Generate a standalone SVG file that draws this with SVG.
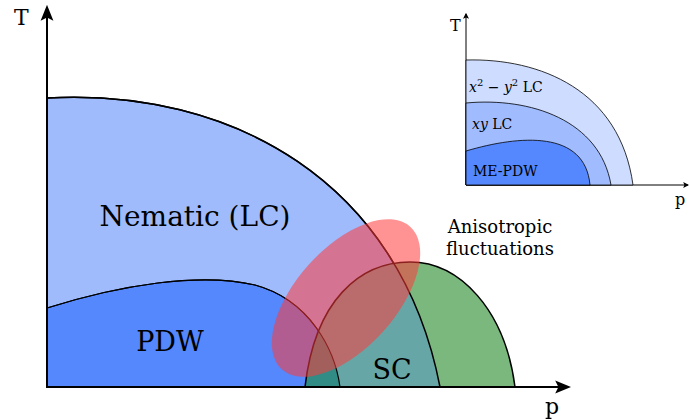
<svg xmlns="http://www.w3.org/2000/svg" width="689" height="420" viewBox="0 0 689 420">
<style>
text{font-family:"DejaVu Serif","Liberation Serif",serif;fill:#000}
.reg{stroke:#000;stroke-width:1.5}
.ax{stroke:#000;stroke-width:2;fill:none}
.iax{stroke:#000;stroke-width:1;fill:none}
</style>
<defs>
<marker id="ah" viewBox="0 0 10 10" refX="8" refY="5" markerWidth="6" markerHeight="6" orient="auto"><path d="M0,0 L10,5 L0,10 L2,5 Z" fill="#000"/></marker>
<marker id="ahs" viewBox="0 0 10 10" refX="8" refY="5" markerWidth="8" markerHeight="8" orient="auto"><path d="M0,1 L10,5 L0,9 L2,5 Z" fill="#000"/></marker>
<path id="nem" d="M47,387 L47,98 C230,88 400,180 440,387 Z"/>
<path id="pdw" d="M47,387 L47,308 C120,285 200,272 255,285 C310,300 335,350 340,387 Z"/>
<path id="sc" d="M305,387 C315,300 360,262 410,262 C460,262 505,310 515,387 Z"/>
<clipPath id="cn"><use href="#nem"/></clipPath>
<clipPath id="cp"><use href="#pdw"/></clipPath>
</defs>
<g id="nematic"><use href="#nem" fill="#9fbbfc" class="reg"/><text x="195" y="226" font-size="28" text-anchor="middle">Nematic (LC)</text></g>
<g id="pdw-node"><use href="#pdw" fill="#5587fd" stroke="#000" stroke-width="1.2"/><text x="170" y="351" font-size="27" text-anchor="middle">PDW</text></g>
<g id="sc-node">
<use href="#sc" fill="#7bb87e"/>
<use href="#sc" fill="#67a6a6" clip-path="url(#cn)"/>
<use href="#sc" fill="#318c86" clip-path="url(#cp)"/>
<use href="#sc" fill="none" class="reg"/>
<path d="M47,98 C230,88 400,180 440,387" class="reg" fill="none"/>
<path d="M47,308 C120,285 200,272 255,285 C310,300 335,350 340,387" fill="none" stroke="#000" stroke-width="1.2"/>
<text x="392" y="379" font-size="27" text-anchor="middle">SC</text></g>
<g id="fluct"><ellipse cx="346" cy="298" rx="96" ry="50" transform="rotate(-48 346 298)" fill="#ff3a3a" fill-opacity="0.55"/>
<text x="500" y="233" font-size="18" text-anchor="middle">Anisotropic</text><text x="500" y="255" font-size="18" text-anchor="middle">fluctuations</text></g>
<g id="connectors">
<path class="ax" d="M47,388 L47,8" marker-end="url(#ahs)"/>
<path class="ax" d="M46,387 L568,387" marker-end="url(#ahs)"/>
<path class="iax" d="M466,185 L466,14" marker-end="url(#ah)"/>
<path class="iax" d="M466,185 L688,185" marker-end="url(#ah)"/>
</g>
<text x="14" y="25" font-size="22">T</text>
<text x="545" y="414" font-size="22">p</text>
<g id="inset">
<path d="M466,185 L466,60 C540,58 620,90 633,185 Z" fill="#cddcff" stroke="#000" stroke-width="0.8"/>
<path d="M466,185 L466,103 C530,97 600,120 611,185 Z" fill="#a0bcff" stroke="#000" stroke-width="0.8"/>
<path d="M466,185 L466,151 C520,135 585,130 590,185 Z" fill="#5588ff" stroke="#000" stroke-width="0.8"/>
<text x="469" y="92" font-size="14"><tspan font-style="italic">x</tspan><tspan font-size="10" dy="-6">2</tspan><tspan dy="6"> − </tspan><tspan font-style="italic">y</tspan><tspan font-size="10" dy="-6">2</tspan><tspan dy="6"> LC</tspan></text>
<text x="472" y="129" font-size="14"><tspan font-style="italic">xy</tspan> LC</text>
<text x="473" y="176" font-size="14">ME-PDW</text>
<text x="450" y="31" font-size="16">T</text>
<text x="675" y="205" font-size="16">p</text>
</g>
</svg>
